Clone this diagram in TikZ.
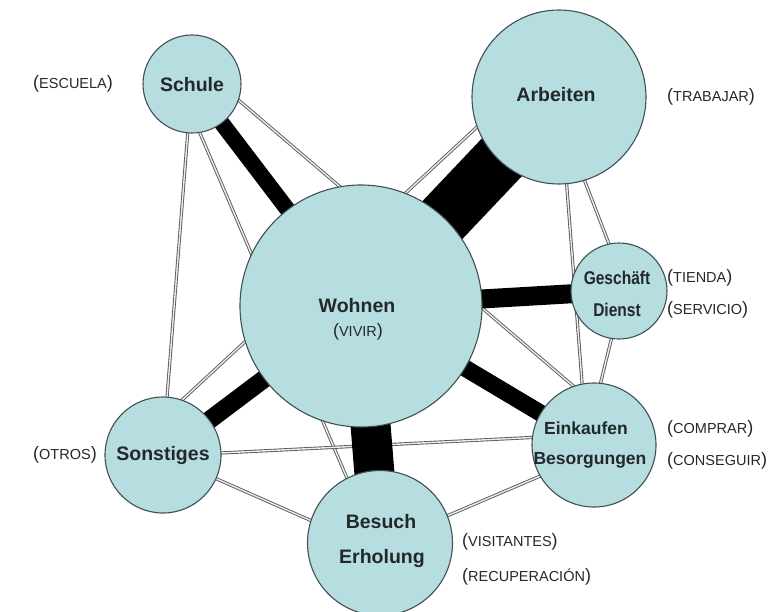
\documentclass[tikz,border=0pt]{standalone}
\usepackage{fontspec}
\setmainfont{Liberation Sans}
\newfontfamily\narrowfont[FakeStretch=0.84]{Liberation Sans}
\definecolor{circfill}{RGB}{182,221,224}
\definecolor{circdraw}{RGB}{65,80,82}
\definecolor{txt}{RGB}{35,40,42}
\definecolor{thinline}{RGB}{90,90,90}
\newcommand{\lbl}[1]{{\fontsize{18}{18}\selectfont(}{\fontsize{14.5}{15}\selectfont #1}{\fontsize{18}{18}\selectfont)}}
\begin{document}
\begin{tikzpicture}[x=1pt,y=-1pt,
  bubble/.style={circle,fill=circfill,draw=circdraw,line width=1.1pt,inner sep=0pt,outer sep=0pt},
  thinedge/.style={draw=thinline,line width=0.9pt,double=gray!15,double distance=1.4pt},
  thickedge/.style={draw=black,line cap=butt},
  ntext/.style={font=\bfseries\fontsize{19.5}{20}\selectfont,text=txt,inner sep=0pt},
  stext/.style={font=\bfseries\fontsize{17.5}{18}\selectfont,text=txt,inner sep=0pt},
  gtext/.style={font=\narrowfont\bfseries\fontsize{18.5}{19}\selectfont,text=txt,inner sep=0pt},
  side/.style={text=txt,inner sep=0pt,anchor=west}]
\useasboundingbox (0,0) rectangle (771,611);
\pgfdeclarelayer{bg}\pgfsetlayers{bg,main}
% circles
\node[bubble,minimum size=98pt]  (schule)   at (192,84)  {};
\node[bubble,minimum size=174pt] (arbeiten) at (559,97)  {};
\node[bubble,minimum size=96pt]  (gesch)    at (619,291) {};
\node[bubble,minimum size=242pt] (wohnen)   at (361,306) {};
\node[bubble,minimum size=124pt] (einkauf)  at (594,445) {};
\node[bubble,minimum size=116pt] (sonst)    at (163,455) {};
\node[bubble,minimum size=145pt] (besuch)   at (380,543) {};
\begin{pgfonlayer}{bg}
% thin connectors
\draw[thinedge] (schule.-19)   -- (einkauf.109);
\draw[thinedge] (schule.-81)   -- (besuch.117);
\draw[thinedge] (schule.-95)   -- (sonst.86);
\draw[thinedge] (arbeiten.-160) -- (sonst.71);
\draw[thinedge] (arbeiten.-73) -- (gesch.102);
\draw[thinedge] (arbeiten.-85) -- (einkauf.101);
\draw[thinedge] (gesch.-99)    -- (einkauf.84);
\draw[thinedge] (sonst.2)      -- (einkauf.173);
\draw[thinedge] (sonst.-24)    -- (besuch.162);
\draw[thinedge] (besuch.22)    -- (einkauf.-150);
% thick connectors
\draw[thickedge,line width=16pt] (schule.center)   -- (wohnen.center);
\draw[thickedge,line width=55pt] (arbeiten.center) -- (wohnen.center);
\draw[thickedge,line width=19pt] (gesch.center)    -- (wohnen.center);
\draw[thickedge,line width=17pt] (einkauf.center)  -- (wohnen.center);
\draw[thickedge,line width=40pt] (besuch.center)   -- (wohnen.center);
\draw[thickedge,line width=18pt] (sonst.center)    -- (wohnen.center);
\end{pgfonlayer}
% texts in circles
\node[ntext] (schule-t)   at (192,85)  {Schule};
\node[ntext] (arbeiten-t) at (556,95)  {Arbeiten};
\node[ntext] (wohnen-t)   at (357,306) {Wohnen};
\node[text=txt,inner sep=0pt] (wohnen-s) at (358,332) {\lbl{VIVIR}};
\node[gtext] (gesch-t)    at (617,278) {Geschäft};
\node[gtext] (dienst-t)   at (617,310) {Dienst};
\node[stext] (einkauf-t)  at (586,428) {Einkaufen};
\node[stext] (besorg-t)   at (590,460) {Besorgungen};
\node[ntext] (sonst-t)    at (163,455) {Sonstiges};
\node[ntext] (besuch-t)   at (381,522) {Besuch};
\node[ntext] (erhol-t)    at (382,558) {Erholung};
% side labels
\node[side] (l-escuela)  at (33,84)   {\lbl{ESCUELA}};
\node[side] (l-trabajar) at (667,97)  {\lbl{TRABAJAR}};
\node[side] (l-tienda)   at (667,278) {\lbl{TIENDA}};
\node[side] (l-servicio) at (667,310) {\lbl{SERVICIO}};
\node[side] (l-comprar)  at (667,429) {\lbl{COMPRAR}};
\node[side] (l-conseg)   at (667,461) {\lbl{CONSEGUIR}};
\node[side] (l-otros)    at (33,455)  {\lbl{OTROS}};
\node[side] (l-visit)    at (462,542) {\lbl{VISITANTES}};
\node[side] (l-recup)    at (462,577) {\lbl{RECUPERACIÓN}};
\end{tikzpicture}
\end{document}
